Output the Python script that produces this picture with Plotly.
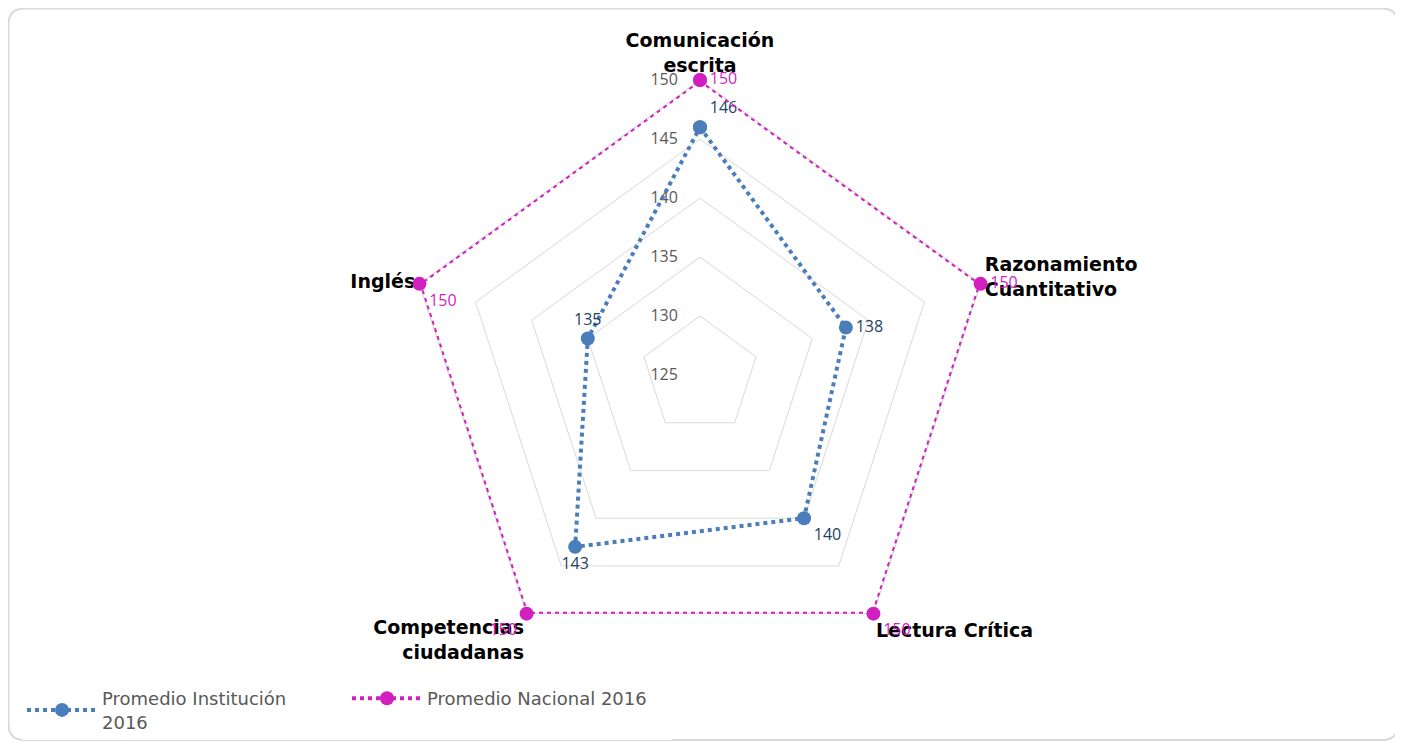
import plotly.graph_objects as go

categories = [
    "Comunicación<br>escrita",
    "Razonamiento<br>Cuantitativo",
    "Lectura Crítica",
    "Competencias<br>ciudadanas",
    "Inglés",
]
institucion = [146, 138, 140, 143, 135]
nacional = [150, 150, 150, 150, 150]
radial_ticks = [125, 130, 135, 140, 145, 150]

BLUE = "#4a7ebb"
MAGENTA = "#d21fbf"

W, H = 1395, 736  # page has an 8px body margin

# close the polygons
cats_closed = categories + categories[:1]

fig = go.Figure()
fig.add_trace(go.Scatterpolar(
    r=institucion + institucion[:1],
    theta=cats_closed,
    mode="lines+markers+text",
    name="Promedio Institución<br>2016",
    line=dict(color=BLUE, width=4, dash="dot"),
    marker=dict(size=14, color=BLUE),
    text=[str(v) for v in institucion] + [""],
    textposition=["top right", "middle right", "bottom right", "bottom center", "top center", "top right"],
    textfont=dict(family="Open Sans", size=16, color="#243f60"),
    cliponaxis=False,
))
fig.add_trace(go.Scatterpolar(
    r=nacional + nacional[:1],
    theta=cats_closed,
    mode="lines+markers+text",
    name="Promedio Nacional 2016",
    line=dict(color=MAGENTA, width=4, dash="dot"),
    marker=dict(size=14, color=MAGENTA),
    text=[str(v) for v in nacional] + [""],
    textposition=["middle right", "middle right", "bottom right", "bottom left", "bottom right", "middle right"],
    textfont=dict(family="Open Sans", size=16, color=MAGENTA),
    cliponaxis=False,
))

cx, cy, rad = 692, 367, 295
fig.update_layout(
    width=W,
    height=H,
    paper_bgcolor="white",
    plot_bgcolor="white",
    margin=dict(l=0, r=0, t=0, b=0),
    showlegend=True,
    legend=dict(
        orientation="h",
        x=14 / W,
        y=1 - 672 / H,
        xanchor="left",
        yanchor="top",
        font=dict(family="DejaVu Sans", size=18, color="#595959"),
        itemwidth=70,
        entrywidth=240,
        entrywidthmode="pixels",
    ),
    polar=dict(
        domain=dict(x=[(cx - rad) / W, (cx + rad) / W], y=[1 - (cy + rad) / H, 1 - (cy - rad) / H]),
        bgcolor="white",
        gridshape="linear",
        radialaxis=dict(
            range=[125, 150],
            tickvals=radial_ticks,
            angle=90,
            tickangle=90,
            side="counterclockwise",
            showline=False,
            ticks="outside",
            ticklen=16,
            tickcolor="rgba(0,0,0,0)",
            gridcolor="#d9d9d9",
            gridwidth=1.3,
            layer="below traces",
            tickfont=dict(family="Open Sans", size=16, color="#595959"),
        ),
        angularaxis=dict(
            rotation=90,
            direction="clockwise",
            showgrid=False,
            showline=True,
            linecolor="#d9d9d9",
            linewidth=1.3,
            ticks="",
            layer="below traces",
            tickvals=categories,
            ticktext=[f"<b>{c}</b>" for c in categories],
            tickfont=dict(family="DejaVu Sans", size=19, color="black"),
        ),
    ),
)

# rounded chart border
rx, ry = 16 / W, 16 / H
x0, x1 = 0.5 / W, (W - 5) / W
y0, y1 = 4 / H, 1 - 0.5 / H
path = (
    f"M {x0 + rx},{y0} L {x1 - rx},{y0} Q {x1},{y0} {x1},{y0 + ry} "
    f"L {x1},{y1 - ry} Q {x1},{y1} {x1 - rx},{y1} "
    f"L {x0 + rx},{y1} Q {x0},{y1} {x0},{y1 - ry} "
    f"L {x0},{y0 + ry} Q {x0},{y0} {x0 + rx},{y0} Z"
)
fig.add_shape(type="path", path=path, xref="paper", yref="paper",
              line=dict(color="#d9d9d9", width=2), layer="below")

fig.write_html("out.html")
